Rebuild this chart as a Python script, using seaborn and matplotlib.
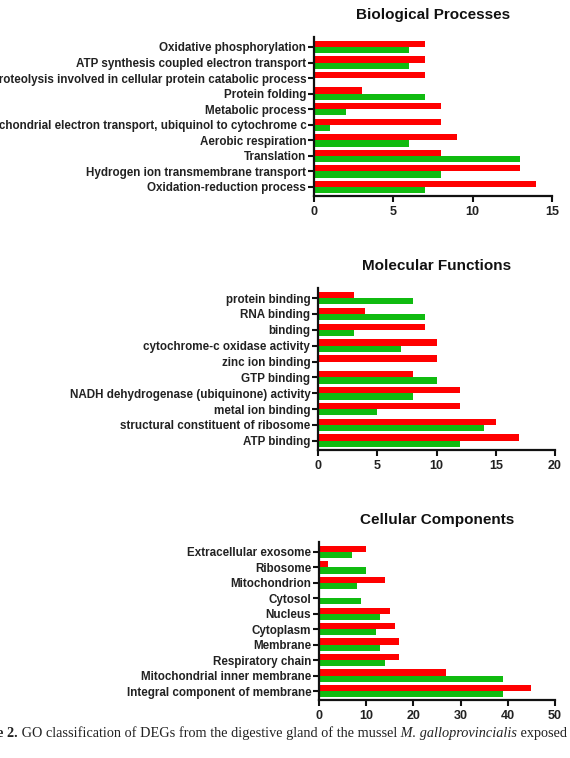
import pandas as pd
import matplotlib.pyplot as plt
import seaborn as sns

RED = '#ff0000'
GREEN = '#10bb10'

# Biological Processes
bp_terms = ['Oxidative phosphorylation',
            'ATP synthesis coupled electron transport',
            'Proteolysis involved in cellular protein catabolic process',
            'Protein folding',
            'Metabolic process',
            'Mitochondrial electron transport, ubiquinol to cytochrome c',
            'Aerobic respiration',
            'Translation',
            'Hydrogen ion transmembrane transport',
            'Oxidation-reduction process']
bp_red = [7, 7, 7, 3, 8, 8, 9, 8, 13, 14]
bp_green = [6, 6, 0, 7, 2, 1, 6, 13, 8, 7]

# Molecular Functions
mf_terms = ['protein binding',
            'RNA binding',
            'binding',
            'cytochrome-c oxidase activity',
            'zinc ion binding',
            'GTP binding',
            'NADH dehydrogenase (ubiquinone) activity',
            'metal ion binding',
            'structural constituent of ribosome',
            'ATP binding']
mf_red = [3, 4, 9, 10, 10, 8, 12, 12, 15, 17]
mf_green = [8, 9, 3, 7, 0, 10, 8, 5, 14, 12]

# Cellular Components
cc_terms = ['Extracellular exosome',
            'Ribosome',
            'Mitochondrion',
            'Cytosol',
            'Nucleus',
            'Cytoplasm',
            'Membrane',
            'Respiratory chain',
            'Mitochondrial inner membrane',
            'Integral component of membrane']
cc_red = [10, 2, 14, 0, 15, 16, 17, 17, 27, 45]
cc_green = [7, 10, 8, 9, 13, 12, 13, 14, 39, 39]

sns.set_style('ticks')
plt.rcParams['font.family'] = ['Liberation Sans', 'DejaVu Sans']
plt.rcParams['font.weight'] = 'bold'

W, H = 570, 758
fig = plt.figure(figsize=(W / 100, H / 100), dpi=100)


def make_df(terms, red, green):
    df = pd.DataFrame({'term': terms, 'red': red, 'green': green})
    return df.melt(id_vars='term', var_name='group', value_name='count')


def panel(rect, terms, red, green, title, xmax, step):
    l, r, t, b = rect
    ax = fig.add_axes([l / W, 1 - b / H, (r - l) / W, (b - t) / H])
    df = make_df(terms, red, green)
    sns.barplot(data=df, y='term', x='count', hue='group',
                hue_order=['red', 'green'], palette=[RED, GREEN],
                width=0.8, gap=0, orient='h', legend=False, ax=ax,
                saturation=1, linewidth=0)
    ax.set_xlim(0, xmax)
    ax.set_ylim(9.58, -0.64)
    ax.set_xticks(range(0, xmax + 1, step))
    ax.set_xlabel('')
    ax.set_ylabel('')
    sns.despine(ax=ax)
    for s in ['left', 'bottom']:
        ax.spines[s].set_linewidth(1.6)
        ax.spines[s].set_color('#111111')
    ax.tick_params(axis='both', direction='out', length=4, width=1.5,
                   color='#111111', labelsize=8.4, pad=1.5)
    ax.tick_params(axis='x', labelsize=9, pad=3)
    for lab in ax.get_xticklabels() + ax.get_yticklabels():
        lab.set_fontweight('bold')
        lab.set_color('#222222')
    ax.set_title(title, fontsize=11, fontweight='bold', pad=13, color='#111111')
    return ax


panel((314, 552, 37, 196), bp_terms, bp_red, bp_green, 'Biological Processes', 15, 5)
panel((318, 555, 288, 450), mf_terms, mf_red, mf_green, 'Molecular Functions', 20, 5)
panel((319, 555, 542, 700), cc_terms, cc_red, cc_green, 'Cellular Components', 50, 10)

# caption (left part falls off the page, as in the source)
parts = [(' exposed', 'normal', 'normal'),
         (' M. galloprovincialis', 'normal', 'italic'),
         (' GO classification of DEGs from the digestive gland of the mussel', 'normal', 'normal'),
         ('Figure 2.', 'bold', 'normal')]
last = None
for txt, wt, st in parts:
    kw = dict(fontsize=10.3, fontweight=wt, fontstyle=st,
              family=['Liberation Serif', 'DejaVu Serif'], color='#222222')
    if last is None:
        last = fig.text(567 / W, 1 - 734 / H, txt, ha='right', va='center', **kw)
    else:
        last = fig.axes[0].annotate(txt, xy=(0, 0), xycoords=last, ha='right',
                                    va='bottom', annotation_clip=False, **kw)

fig.savefig('out.png', dpi=100)
